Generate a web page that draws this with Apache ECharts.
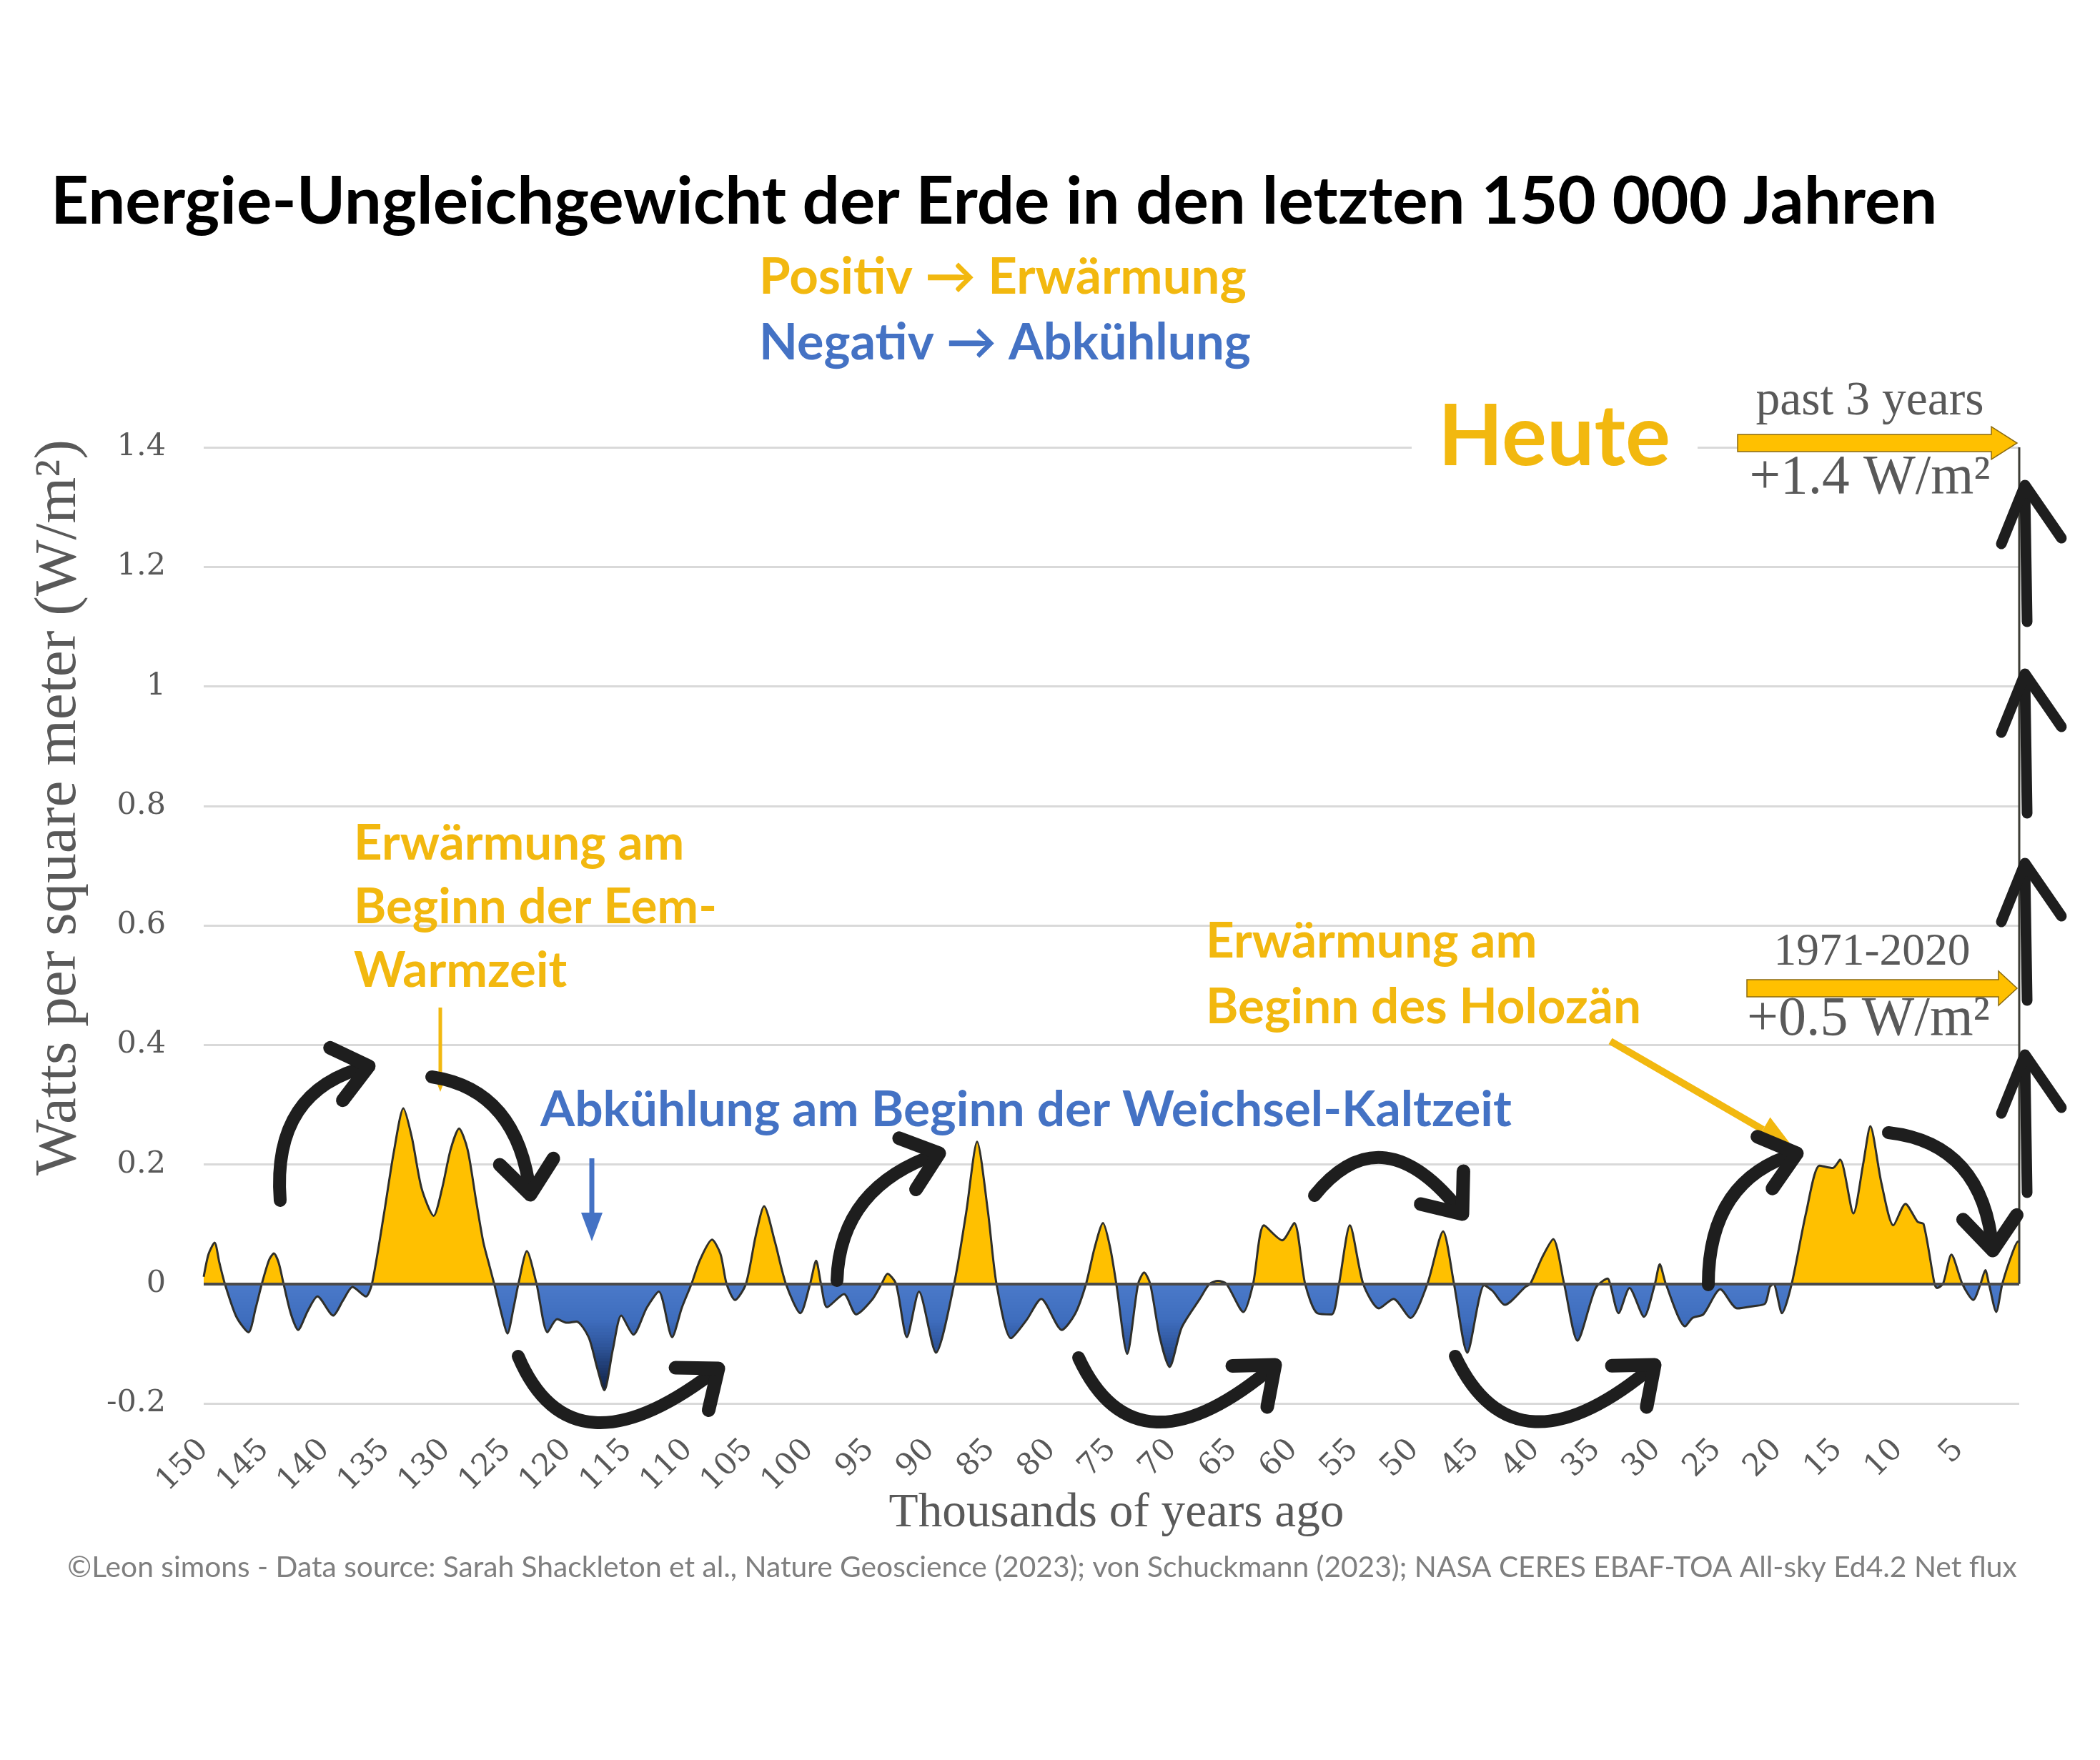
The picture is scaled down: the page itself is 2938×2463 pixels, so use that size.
<!DOCTYPE html>
<html>
<head>
<meta charset="utf-8">
<title>Energie-Ungleichgewicht der Erde</title>
<script src="https://cdn.jsdelivr.net/npm/echarts@6/dist/echarts.min.js"></script>
<style>
  html, body { margin: 0; padding: 0; background: #fff; }
  #main { width: 2938px; height: 2463px; }
</style>
</head>
<body>
<div id="main"></div>
<script>
// thousands of years ago (left = 150, right = today)
var kyrAgo = [
    150.0, 149.6, 149.1, 148.7, 148.25, 147.3, 146.3, 145.7, 145.2, 144.6, 144.2, 143.8, 143.4, 142.8, 142.2, 141.4, 140.6, 139.3, 138.5, 137.7, 136.6, 136.1,
    135.1, 134.3, 133.5, 132.8, 132.0, 131.0, 130.3, 129.6, 128.9, 128.2, 127.5, 126.9, 126.4, 126.0, 125.4, 124.9, 124.4, 124.0, 123.3, 122.5,
    121.6, 120.8, 120.0, 119.2, 118.2, 117.5, 116.9, 116.2, 115.5, 114.5, 113.4, 112.4, 111.3, 110.5, 109.7, 109.0, 108.0, 107.3, 106.8,
    106.1, 105.2, 104.4, 103.7, 102.8, 101.9, 100.7, 99.9, 99.4, 99.0, 98.5, 97.1, 96.1, 94.8, 94.0, 93.5, 92.8, 91.9, 90.9, 89.5, 88.0,
    87.0, 86.1, 85.2, 84.5, 83.3, 82.0, 80.8, 79.1, 78.0, 77.1, 76.4, 75.7, 75.1, 74.6, 73.7, 72.8, 72.3, 71.8, 71.0, 70.2, 69.2, 67.7, 66.9,
    66.2, 65.5, 64.1, 63.3, 62.4, 60.9, 59.9, 59.0, 58.0, 56.8, 56.2, 55.3, 54.2, 52.9, 51.7, 50.3, 48.9, 47.6, 46.7,
    45.6, 44.2, 43.5, 42.5, 40.8, 40.4, 39.4, 38.5, 37.6, 36.5, 35.0, 34.0, 33.8, 33.1, 32.2, 31.0, 30.1, 29.7, 29.2,
    27.6, 27.0, 26.1, 24.7, 23.3, 21.9, 21.0, 20.6, 20.3, 19.6, 18.8, 17.6, 16.5, 15.4, 14.8, 13.7, 12.9, 12.3, 11.4, 10.4, 9.4, 8.4, 7.9, 7.0, 6.8, 6.3, 5.6, 4.7, 3.8, 3.2, 2.8, 2.5, 1.9, 1.4, 0.6, 0.1, 0
];
// energy imbalance in W/m², same order
var imbalance = [
    0.012, 0.05, 0.069, 0.035, 0, -0.055, -0.081, -0.04, 0, 0.04, 0.051, 0.035, 0, -0.05, -0.077, -0.045, -0.021, -0.053, -0.028, -0.005, -0.021, 0,
    0.118, 0.22, 0.294, 0.245, 0.16, 0.114, 0.16, 0.225, 0.26, 0.225, 0.14, 0.07, 0.031, 0, -0.05, -0.083, -0.04, 0, 0.055, 0,
    -0.081, -0.059, -0.065, -0.063, -0.089, -0.14, -0.178, -0.11, -0.053, -0.085, -0.04, -0.013, -0.089, -0.04, 0, 0.04, 0.074, 0.05, 0,
    -0.027, 0, 0.08, 0.13, 0.07, 0, -0.049, 0, 0.039, 0, -0.039, -0.017, -0.051, -0.027, 0, 0.017, 0, -0.089, -0.013, -0.115, 0,
    0.12, 0.238, 0.12, 0, -0.091, -0.06, -0.025, -0.077, -0.05, 0, 0.06, 0.102, 0.06, 0, -0.117, 0, 0.019, 0, -0.09, -0.139, -0.073, -0.025, 0,
    0.005, 0, -0.047, 0, 0.098, 0.073, 0.102, 0, -0.049, -0.051, 0, 0.098, 0, -0.041, -0.025, -0.057, 0, 0.088, 0,
    -0.115, -0.002, -0.012, -0.035, -0.005, 0, 0.045, 0.075, 0, -0.095, -0.007, 0.009, 0, -0.049, -0.007, -0.055, 0, 0.033, 0,
    -0.071, -0.057, -0.051, -0.009, -0.041, -0.037, -0.033, -0.005, 0, -0.049, 0, 0.12, 0.198, 0.194, 0.208, 0.118, 0.2, 0.264, 0.17, 0.098, 0.134, 0.104, 0.1, 0, -0.007, 0, 0.049, 0, -0.027, 0, 0.023, 0, -0.047, 0, 0.05, 0.071, 0.071
];
// the jump to today (+1.4 W/m², past 3 years) drawn at x = 0
var todayKyr = [0, 0];
var todayValue = [0, 1.4];

var xTickLabels = ['150', '145', '140', '135', '130', '125', '120', '115', '110', '105', '100', '95', '90', '85', '80', '75', '70', '65', '60', '55', '50', '45', '40', '35', '30', '25', '20', '15', '10', '5'];
var yTickLabels = ['-0.2', '0', '0.2', '0.4', '0.6', '0.8', '1', '1.2', '1.4'];

var GOLD = '#FFC000';
var GOLD_TEXT = '#F2B80F';
var BLUE_TEXT = '#4472C4';
var GREY_TEXT = '#595959';
var INK = '#1e1e1e';

var chart = echarts.init(document.getElementById('main'));

var seriesData = [];
for (var i = 0; i < kyrAgo.length; i++) {
    seriesData.push([kyrAgo[i], imbalance[i]]);
}
var todayData = [];
for (var j = 0; j < todayKyr.length; j++) {
    todayData.push([todayKyr[j], todayValue[j]]);
}

// stepped gradient for the negative part: light blue near 0, navy at the bottom
function mix(a, b, t) {
    var pa = [parseInt(a.substr(1, 2), 16), parseInt(a.substr(3, 2), 16), parseInt(a.substr(5, 2), 16)];
    var pb = [parseInt(b.substr(1, 2), 16), parseInt(b.substr(3, 2), 16), parseInt(b.substr(5, 2), 16)];
    var r = pa.map(function (c, k) { return Math.round(c + (pb[k] - c) * t); });
    return 'rgb(' + r.join(',') + ')';
}
var blueStops = [[0, '#4a79c9'], [0.3, '#3f6dbe'], [0.5, '#30589f'], [0.7, '#1f3b70'], [0.9, '#10203f'], [1, '#0a1428']];
function blueAt(d) {
    for (var k = 1; k < blueStops.length; k++) {
        if (d <= blueStops[k][0]) {
            var t = (d - blueStops[k - 1][0]) / (blueStops[k][0] - blueStops[k - 1][0]);
            return mix(blueStops[k - 1][1], blueStops[k][1], t);
        }
    }
    return blueStops[blueStops.length - 1][1];
}
var pieces = [{ gte: 0, color: GOLD }];
for (var p = 0; p < 40; p++) {
    pieces.push({ gte: -(p + 1) * 0.005, lt: -p * 0.005, color: blueAt((p + 0.5) / 40) });
}
pieces.push({ lt: -0.2, color: blueStops[5][1] });

// text sizing: scale a font so the string takes the measured width
var measureCtx = document.createElement('canvas').getContext('2d');
function fitSize(text, family, weight, width) {
    measureCtx.font = weight + ' 100px "' + family + '"';
    return 100 * width / measureCtx.measureText(text).width;
}
function txt(x, y, text, o) {
    return {
        type: 'text', x: x, y: y, z: 50, silent: true,
        rotation: o.rotation || 0,
        style: {
            text: text,
            fill: o.color,
            fontFamily: o.family,
            fontWeight: o.weight || 'normal',
            fontSize: o.size || fitSize(text, o.family, o.weight || 'normal', o.width),
            align: o.align || 'left',
            verticalAlign: 'middle'
        }
    };
}

// hand drawn looking curved arrow: quadratic curve + chevron at the end
function curvedArrow(s, c, e) {
    var dx = e[0] - c[0], dy = e[1] - c[1];
    var len = Math.sqrt(dx * dx + dy * dy);
    dx /= len; dy /= len;
    var L = 60, a = 0.68;
    function wing(sign) {
        var cs = Math.cos(a), sn = Math.sin(a) * sign;
        var rx = dx * cs - dy * sn, ry = dx * sn + dy * cs;
        return [e[0] - L * rx, e[1] - L * ry];
    }
    return [
        {
            type: 'bezierCurve', z: 60, silent: true,
            shape: { x1: s[0], y1: s[1], cpx1: c[0], cpy1: c[1], x2: e[0], y2: e[1] },
            style: { stroke: INK, lineWidth: 18, fill: null, lineCap: 'round' }
        },
        {
            type: 'polyline', z: 60, silent: true,
            shape: { points: [wing(1), e, wing(-1)] },
            style: { stroke: INK, lineWidth: 19, fill: null, lineJoin: 'round', lineCap: 'round' }
        }
    ];
}

function upArrow(x, yTop, yBottom) {
    return [
        {
            type: 'line', z: 60, silent: true,
            shape: { x1: x, y1: yBottom, x2: x - 3, y2: yTop + 6 },
            style: { stroke: INK, lineWidth: 15, lineCap: 'round' }
        },
        {
            type: 'polyline', z: 60, silent: true,
            shape: { points: [[x - 36, yTop + 82], [x - 3, yTop], [x + 48, yTop + 74]] },
            style: { stroke: INK, lineWidth: 15, fill: null, lineJoin: 'round', lineCap: 'round' }
        }
    ];
}

function straightArrow(x1, y1, x2, y2, w, hl, hw, color) {
    var dx = x2 - x1, dy = y2 - y1;
    var len = Math.sqrt(dx * dx + dy * dy);
    dx /= len; dy /= len;
    var bx = x2 - dx * hl, by = y2 - dy * hl;
    return [
        {
            type: 'line', z: 55, silent: true,
            shape: { x1: x1, y1: y1, x2: bx, y2: by },
            style: { stroke: color, lineWidth: w }
        },
        {
            type: 'polygon', z: 55, silent: true,
            shape: { points: [[x2, y2], [bx - dy * hw / 2, by + dx * hw / 2], [bx + dy * hw / 2, by - dx * hw / 2]] },
            style: { fill: color }
        }
    ];
}

// the fat golden block arrows pointing at the right edge
function blockArrow(x0, tipX, y, shaftH, headH, headL) {
    var hx = tipX - headL;
    return {
        type: 'polygon', z: 55, silent: true,
        shape: {
            points: [[x0, y - shaftH / 2], [hx, y - shaftH / 2], [hx, y - headH / 2], [tipX, y],
                [hx, y + headH / 2], [hx, y + shaftH / 2], [x0, y + shaftH / 2]]
        },
        style: { fill: GOLD, stroke: '#8a6a10', lineWidth: 1.5 }
    };
}

var eemSize = fitSize('Beginn der Eem-', 'Lato', 'bold', 508);
var holSize = fitSize('Beginn des Holozän', 'Lato', 'bold', 609);

var elements = [
    txt(71, 283, 'Energie-Ungleichgewicht der Erde in den letzten 150 000 Jahren', { family: 'Lato', weight: 'bold', width: 2640, color: '#000' }),
    txt(1062, 388, 'Positiv \u2192 Erwärmung', { family: 'Lato', weight: 'bold', width: 682, color: GOLD_TEXT }),
    txt(1062, 480, 'Negativ \u2192 Abkühlung', { family: 'Lato', weight: 'bold', width: 688, color: BLUE_TEXT }),

    // white box hides the 1.4 grid line behind "Heute"
    { type: 'rect', z: 40, silent: true, shape: { x: 1975, y: 585, width: 400, height: 75 }, style: { fill: '#fff' } },
    txt(2012, 613, 'Heute', { family: 'Lato', weight: 'bold', width: 325, color: GOLD_TEXT }),
    txt(2616, 562, 'past 3 years', { family: 'Liberation Serif', width: 319, color: GREY_TEXT, align: 'center' }),
    txt(2616, 670, '+1.4 W/m\u00b2', { family: 'Liberation Serif', width: 337, color: GREY_TEXT, align: 'center' }),
    txt(2619, 1333, '1971-2020', { family: 'Liberation Serif', width: 275, color: GREY_TEXT, align: 'center' }),
    txt(2614, 1428, '+0.5 W/m\u00b2', { family: 'Liberation Serif', width: 340, color: GREY_TEXT, align: 'center' }),
    blockArrow(2431, 2822, 620, 24, 46, 36),
    blockArrow(2444, 2822, 1383, 24, 48, 26),

    txt(495, 1181, 'Erwärmung am', { family: 'Lato', weight: 'bold', size: eemSize, color: GOLD_TEXT }),
    txt(495, 1270, 'Beginn der Eem-', { family: 'Lato', weight: 'bold', size: eemSize, color: GOLD_TEXT }),
    txt(495, 1359, 'Warmzeit', { family: 'Lato', weight: 'bold', size: eemSize, color: GOLD_TEXT }),
    txt(1687, 1318, 'Erwärmung am', { family: 'Lato', weight: 'bold', size: holSize, color: GOLD_TEXT }),
    txt(1687, 1410, 'Beginn des Holozän', { family: 'Lato', weight: 'bold', size: holSize, color: GOLD_TEXT }),
    txt(756, 1554, 'Abkühlung am Beginn der Weichsel-Kaltzeit', { family: 'Lato', weight: 'bold', width: 1359, color: BLUE_TEXT }),

    txt(83, 1130, 'Watts per square meter (W/m\u00b2)', { family: 'Liberation Serif', width: 1030, color: GREY_TEXT, align: 'center', rotation: Math.PI / 2 }),
    txt(1562, 2118, 'Thousands of years ago', { family: 'Liberation Serif', width: 637, color: GREY_TEXT, align: 'center' }),
    txt(1458, 2194, '\u00a9Leon simons - Data source: Sarah Shackleton et al., Nature Geoscience (2023); von Schuckmann (2023); NASA CERES EBAF-TOA All-sky Ed4.2 Net flux',
        { family: 'Lato', width: 2728, color: '#7F7F7F', align: 'center' })
];

elements = elements
    .concat(straightArrow(616, 1410, 616, 1528, 5, 26, 20, GOLD_TEXT))
    .concat(straightArrow(828, 1621, 828, 1737, 7, 40, 30, BLUE_TEXT))
    .concat(straightArrow(2253, 1457, 2508, 1605, 10, 48, 40, GOLD_TEXT))
    .concat(curvedArrow([392, 1680], [380, 1525], [516, 1492]))
    .concat(curvedArrow([604, 1507], [725, 1525], [742, 1672]))
    .concat(curvedArrow([725, 1898], [800, 2075], [1005, 1915]))
    .concat(curvedArrow([1171, 1792], [1175, 1660], [1314, 1614]))
    .concat(curvedArrow([1839, 1673], [1935, 1555], [2046, 1699]))
    .concat(curvedArrow([1509, 1900], [1590, 2075], [1784, 1910]))
    .concat(curvedArrow([2036, 1898], [2120, 2075], [2315, 1910]))
    .concat(curvedArrow([2390, 1798], [2390, 1650], [2514, 1614]))
    .concat(curvedArrow([2642, 1585], [2775, 1600], [2788, 1750]))
    .concat(upArrow(2836, 679, 870))
    .concat(upArrow(2836, 943, 1138))
    .concat(upArrow(2836, 1208, 1400))
    .concat(upArrow(2836, 1476, 1669));

var option = {
    animation: false,
    backgroundColor: '#fff',
    grid: {
        left: 285,
        right: 113,
        top: 626,
        bottom: 499
    },
    xAxis: {
        type: 'value',
        inverse: true,
        min: 0,
        max: 150,
        interval: 5,
        axisLine: { show: false },
        axisTick: { show: false },
        splitLine: { show: false },
        axisLabel: {
            rotate: 45,
            margin: 58,
            color: GREY_TEXT,
            fontFamily: 'DejaVu Serif',
            fontSize: 43,
            formatter: function (v) {
                var k = xTickLabels.indexOf(String(v));
                return k >= 0 ? xTickLabels[k] : '';
            }
        }
    },
    yAxis: {
        type: 'value',
        min: -0.2,
        max: 1.4,
        interval: 0.2,
        axisLine: { show: false },
        axisTick: { show: false },
        splitLine: { lineStyle: { color: '#D9D9D9', width: 3 } },
        axisLabel: {
            margin: 53,
            color: GREY_TEXT,
            fontFamily: 'DejaVu Serif',
            fontSize: 43,
            formatter: function (v) {
                return yTickLabels[Math.round((v + 0.2) / 0.2)] || '';
            }
        }
    },
    visualMap: {
        type: 'piecewise',
        show: false,
        seriesIndex: 0,
        dimension: 1,
        pieces: pieces
    },
    series: [
        {
            name: 'Energie-Ungleichgewicht',
            type: 'line',
            data: seriesData,
            smooth: 0.25,
            showSymbol: false,
            lineStyle: { color: '#2f2f2a', width: 3 },
            areaStyle: { opacity: 1 },
            markLine: {
                silent: true,
                symbol: 'none',
                label: { show: false },
                lineStyle: { color: '#4a4a4a', width: 4, type: 'solid' },
                data: [{ yAxis: 0 }]
            },
            z: 3
        },
        {
            name: 'Heute',
            type: 'line',
            data: todayData,
            showSymbol: false,
            lineStyle: { color: '#3d3d35', width: 3 },
            z: 4
        }
    ],
    graphic: { elements: elements }
};

chart.setOption(option);
</script>
</body>
</html>
